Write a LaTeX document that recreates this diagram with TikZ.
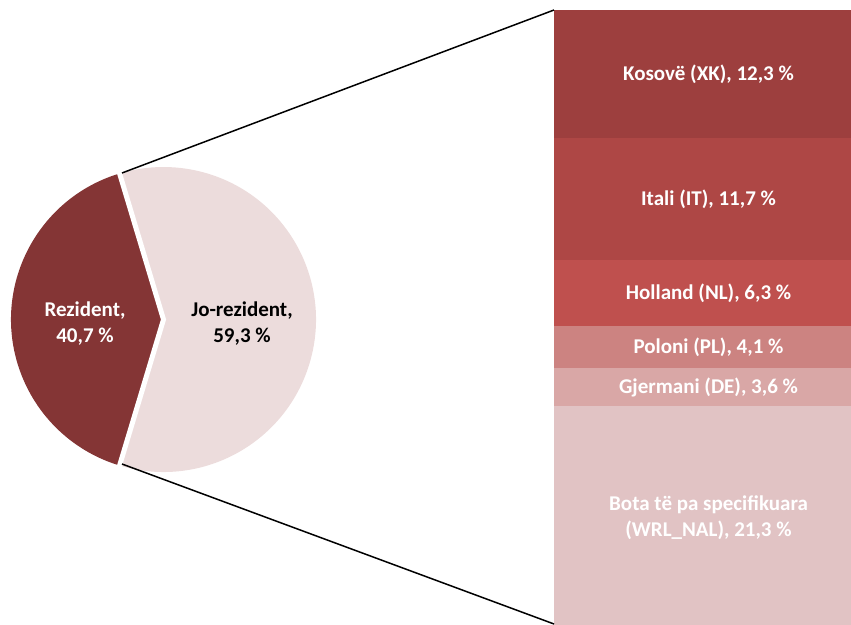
\documentclass[tikz,border=0pt]{standalone}
\usepackage{fontspec}
\setmainfont{Carlito}
\usetikzlibrary{calc}
\definecolor{cdark}{HTML}{843535}
\definecolor{clight}{HTML}{ECDCDC}
\definecolor{cxk}{HTML}{9D3F3E}
\definecolor{cit}{HTML}{AE4745}
\definecolor{cnl}{HTML}{BF504E}
\definecolor{cpl}{HTML}{CC8381}
\definecolor{cde}{HTML}{D9A7A6}
\definecolor{cwrl}{HTML}{E1C3C4}
\tikzset{
  seg/.style={anchor=north west, inner sep=0pt, outer sep=0pt, minimum width=309pt,
    text=white, font=\fontsize{21}{26}\selectfont\bfseries, align=center},
  pielabel/.style={font=\fontsize{21}{26}\selectfont\bfseries, align=center, inner sep=0pt},
  zoomline/.style={black, line width=1.5pt},
  gapline/.style={white, line width=5pt, line join=miter}
}
\begin{document}
\begin{tikzpicture}[x=1pt,y=1pt]
\useasboundingbox (0,0) rectangle (851,624);
\coordinate (C) at (163.5,304.5);
% pie slices
\fill[cdark] (C) -- ++(106.74:152.5) arc[start angle=106.74, end angle=253.26, radius=152.5] -- cycle;
\fill[clight] (C) -- ++(-106.74:152.5) arc[start angle=-106.74, end angle=106.74, radius=152.5] -- cycle;
\draw[gapline] ($(C)+(106.74:156)$) -- (C) -- ($(C)+(253.26:156)$);
% labels
\node[pielabel, text=white] (res) at (85,300) {Rezident,\\40,7 \%};
\node[pielabel, text=black] (nonres) at (242,300) {Jo-rezident,\\59,3 \%};
% bar segments
\node[seg, fill=cxk, minimum height=128pt] (xk) at (554,614) {Kosovë (XK), 12,3 \%};
\node[seg, fill=cit, minimum height=122pt] (it) at (554,486) {Itali (IT), 11,7 \%};
\node[seg, fill=cnl, minimum height=66pt] (nl) at (554,364) {Holland (NL), 6,3 \%};
\node[seg, fill=cpl, minimum height=42pt] (pl) at (554,298) {Poloni (PL), 4,1 \%};
\node[seg, fill=cde, minimum height=38pt] (de) at (554,256) {Gjermani (DE), 3,6 \%};
\node[seg, fill=cwrl, minimum height=224pt] (wrl) at (554,218) {Bota të pa specifikuara\\(WRL\_NAL), 21,3 \%};
% connectors
\coordinate (pt) at (122,451);
\coordinate (pb) at (122,160);
\coordinate (bb) at (554,0);
\draw[zoomline] (pt) -- (xk.north west);
\draw[zoomline] (pb) -- (bb);
\end{tikzpicture}
\end{document}
